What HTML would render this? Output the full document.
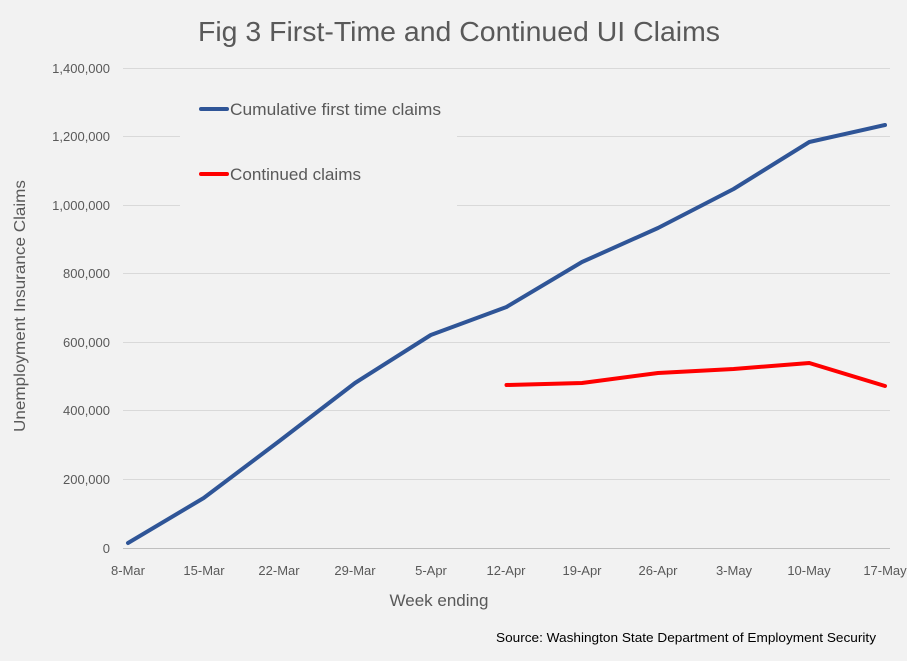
<!DOCTYPE html>
<html><head><meta charset="utf-8"><style>
body{margin:0;background:#f2f2f2}
svg{display:block;font-family:"Liberation Sans",sans-serif}
</style></head><body>
<svg width="907" height="661" viewBox="0 0 907 661">
<rect width="907" height="661" fill="#f2f2f2"/>
<text x="459" y="41" text-anchor="middle" font-size="28" fill="#595959" textLength="522" lengthAdjust="spacingAndGlyphs">Fig 3 First-Time and Continued UI Claims</text>
<g stroke="#d9d9d9" stroke-width="1">
<line x1="123" x2="890" y1="68.5" y2="68.5"/>
<line x1="123" x2="180" y1="136.5" y2="136.5"/><line x1="457" x2="890" y1="136.5" y2="136.5"/>
<line x1="123" x2="180" y1="205.5" y2="205.5"/><line x1="457" x2="890" y1="205.5" y2="205.5"/>
<line x1="123" x2="890" y1="273.5" y2="273.5"/>
<line x1="123" x2="890" y1="342.5" y2="342.5"/>
<line x1="123" x2="890" y1="410.5" y2="410.5"/>
<line x1="123" x2="890" y1="479.5" y2="479.5"/>
</g>
<line x1="123" x2="890" y1="548.5" y2="548.5" stroke="#bfbfbf"/>
<g font-size="13" fill="#595959" text-anchor="end">
<text x="110" y="73">1,400,000</text><text x="110" y="141">1,200,000</text><text x="110" y="210">1,000,000</text>
<text x="110" y="278">800,000</text><text x="110" y="347">600,000</text><text x="110" y="415">400,000</text>
<text x="110" y="484">200,000</text><text x="110" y="553">0</text>
</g>
<g font-size="13" fill="#595959" text-anchor="middle">
<text x="128" y="575">8-Mar</text><text x="204" y="575">15-Mar</text><text x="279" y="575">22-Mar</text>
<text x="355" y="575">29-Mar</text><text x="431" y="575">5-Apr</text><text x="506" y="575">12-Apr</text>
<text x="582" y="575">19-Apr</text><text x="658" y="575">26-Apr</text><text x="734" y="575">3-May</text>
<text x="809" y="575">10-May</text><text x="885" y="575">17-May</text>
</g>
<text x="439" y="606" font-size="17" fill="#595959" text-anchor="middle">Week ending</text>
<text transform="translate(25,306) rotate(-90)" font-size="16" fill="#595959" text-anchor="middle" textLength="252" lengthAdjust="spacingAndGlyphs">Unemployment Insurance Claims</text>
<text x="876" y="642" font-size="13" fill="#000" text-anchor="end" textLength="380" lengthAdjust="spacingAndGlyphs">Source: Washington State Department of Employment Security</text>
<polyline fill="none" stroke="#2f5597" stroke-width="4" stroke-linejoin="round" stroke-linecap="round"
points="128,543 203.7,498 279.4,441 355,383 430.8,335 506.5,307 582,262 658,228 733.6,189 809.3,142 885,125"/>
<polyline fill="none" stroke="#ff0000" stroke-width="4" stroke-linejoin="round" stroke-linecap="round"
points="506.5,385 582,383 658,373 733.6,369 809.3,363 885,386"/>
<line x1="201" x2="227" y1="109" y2="109" stroke="#2f5597" stroke-width="4" stroke-linecap="round"/>
<line x1="201" x2="227" y1="174" y2="174" stroke="#ff0000" stroke-width="4" stroke-linecap="round"/>
<text x="230" y="115" font-size="17" fill="#595959" textLength="211" lengthAdjust="spacingAndGlyphs">Cumulative first time claims</text>
<text x="230" y="180" font-size="17" fill="#595959" textLength="131" lengthAdjust="spacingAndGlyphs">Continued claims</text>
</svg>
</body></html>
